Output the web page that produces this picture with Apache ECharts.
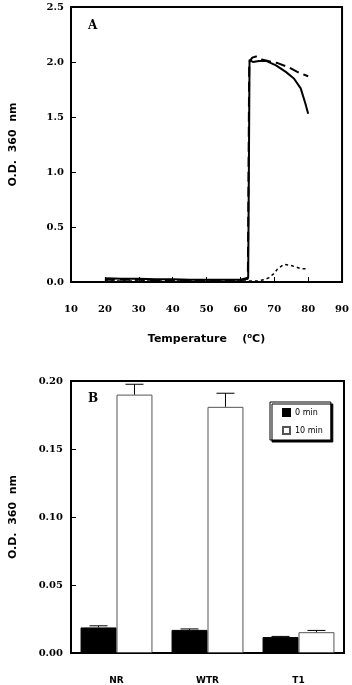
<!DOCTYPE html>
<html>
<head>
<meta charset="utf-8">
<script src="https://cdn.jsdelivr.net/npm/echarts@6/dist/echarts.min.js"></script>
<style>html,body{margin:0;padding:0;background:#fff}#main{width:352px;height:685px}</style>
</head>
<body>
<div id="main"></div>
<script>
// panel A: O.D. 360 vs temperature
var solidT = [20, 25, 30, 35, 40, 45, 50, 55, 60, 62.3, 62.7, 63.7, 65.5, 67.6, 70.5, 73.4, 75.8, 77.8, 79.2, 80];
var solidV = [0.035, 0.03, 0.03, 0.025, 0.025, 0.02, 0.02, 0.02, 0.02, 0.04, 2.02, 2.0, 2.01, 2.01, 1.97, 1.91, 1.85, 1.76, 1.62, 1.53];
var dashT = [20, 30, 40, 50, 60, 62.2, 62.6, 63.5, 64.6, 66.6, 71, 74.4, 76.8, 80];
var dashV = [0.02, 0.02, 0.015, 0.015, 0.015, 0.03, 2.0, 2.04, 2.05, 2.02, 1.99, 1.95, 1.91, 1.87];
var dotT = [20, 30, 40, 50, 60, 63, 65, 67, 68.5, 70, 71, 72.9, 75, 77, 78, 80];
var dotV = [0.01, 0.01, 0.01, 0.01, 0.01, 0.01, 0.01, 0.02, 0.04, 0.08, 0.12, 0.16, 0.15, 0.13, 0.12, 0.12];

// panel B: bars
var samples = ['NR', 'WTR', 'T1'];
var od0 = [0.0188, 0.0170, 0.0117];
var od10 = [0.190, 0.181, 0.0153];
var err0 = [0.0012, 0.0007, 0.0005];
var err10 = [0.0076, 0.0100, 0.0013];

function pairs(xs, ys) {
    return xs.map(function (x, i) { return [x, ys[i]]; });
}
function errData(vals, errs) {
    return vals.map(function (v, i) { return [i, v, errs[i]]; });
}
var gapPct = 0.21;
function errRender(sign) {
    return function (params, api) {
        var idx = api.value(0), v = api.value(1), e = api.value(2);
        var band = api.size([1, 0])[0];
        var bw = band * (1 - gapPct) / 2;
        var c = api.coord([idx, v]);
        var t = api.coord([idx, v + e]);
        var x = c[0] + sign * bw / 2;
        return {
            type: 'group',
            children: [
                {type: 'line', shape: {x1: x, y1: c[1], x2: x, y2: t[1]}, style: {stroke: '#000', lineWidth: 1}},
                {type: 'line', shape: {x1: x - 9, y1: t[1], x2: x + 9, y2: t[1]}, style: {stroke: '#000', lineWidth: 1}}
            ]
        };
    };
}

var tickFont = {fontFamily: 'DejaVu Serif', fontWeight: 'bold', fontSize: 10, color: '#000'};
var nameFont = {fontFamily: 'DejaVu Sans', fontWeight: 'bold', fontSize: 11, color: '#000'};

var myChart = echarts.init(document.getElementById('main'));
myChart.setOption({
    animation: false,
    backgroundColor: '#fff',
    title: [
        {text: 'A', left: 83, top: 15, textStyle: {fontFamily: 'DejaVu Serif', fontWeight: 'bold', fontSize: 12, color: '#000'}},
        {text: 'B', left: 83, top: 388, textStyle: {fontFamily: 'DejaVu Serif', fontWeight: 'bold', fontSize: 12, color: '#000'}}
    ],
    legend: {
        data: ['0 min', '10 min'],
        icon: 'rect',
        orient: 'vertical',
        left: 270, top: 402,
        itemWidth: 7, itemHeight: 7, itemGap: 9,
        padding: [6, 8, 5, 12],
        backgroundColor: '#fff',
        borderColor: '#000', borderWidth: 1, borderRadius: 0,
        shadowColor: '#000', shadowBlur: 0, shadowOffsetX: 2, shadowOffsetY: 2,
        textStyle: {fontFamily: 'DejaVu Sans', fontSize: 8, color: '#000'}
    },
    grid: [
        {left: 69, right: 8, top: 7, height: 275, show: true, borderColor: '#000', borderWidth: 2},
        {left: 70, right: 8, top: 381, height: 274, show: true, borderColor: '#000', borderWidth: 2}
    ],
    xAxis: [
        {
            gridIndex: 0, type: 'value', min: 10, max: 90, interval: 10,
            name: 'Temperature    ({sup|o}C)',
            nameLocation: 'middle', nameGap: 51,
            nameTextStyle: Object.assign({}, nameFont, {rich: {sup: {fontFamily: 'DejaVu Sans', fontWeight: 'bold', fontSize: 7, verticalAlign: 'top', padding: [0, 0, 6, 0]}}}),
            axisLine: {lineStyle: {color: '#000', width: 2}},
            axisTick: {inside: true, length: 5, lineStyle: {color: '#000', width: 1}},
            axisLabel: Object.assign({margin: 22}, tickFont),
            splitLine: {show: false}
        },
        {
            gridIndex: 1, type: 'category', data: samples,
            axisLine: {lineStyle: {color: '#000', width: 2}},
            axisTick: {inside: true, length: 5, lineStyle: {color: '#000', width: 1}},
            axisLabel: {margin: 23, fontFamily: 'DejaVu Sans', fontWeight: 'bold', fontSize: 9, color: '#000'}
        }
    ],
    yAxis: [
        {
            gridIndex: 0, type: 'value', min: 0, max: 2.5, interval: 0.5,
            name: 'O.D.  360  nm', nameLocation: 'middle', nameGap: 52, nameTextStyle: nameFont,
            axisLine: {show: true, lineStyle: {color: '#000', width: 2}},
            axisTick: {show: true, inside: true, length: 5, lineStyle: {color: '#000', width: 1}},
            axisLabel: Object.assign({margin: 7, formatter: function (v) { return v.toFixed(1); }}, tickFont),
            splitLine: {show: false}
        },
        {
            gridIndex: 1, type: 'value', min: 0, max: 0.2, interval: 0.05,
            name: 'O.D.  360  nm', nameLocation: 'middle', nameGap: 52, nameTextStyle: nameFont,
            axisLine: {show: true, lineStyle: {color: '#000', width: 2}},
            axisTick: {show: true, inside: true, length: 5, lineStyle: {color: '#000', width: 1}},
            axisLabel: Object.assign({margin: 8, formatter: function (v) { return v.toFixed(2); }}, tickFont),
            splitLine: {show: false}
        }
    ],
    series: [
        {
            type: 'line', xAxisIndex: 0, yAxisIndex: 0, data: pairs(solidT, solidV),
            showSymbol: false,
            lineStyle: {color: '#000', width: 2, type: 'solid'}
        },
        {
            type: 'line', xAxisIndex: 0, yAxisIndex: 0, data: pairs(dashT, dashV),
            showSymbol: false,
            lineStyle: {color: '#000', width: 2, type: [10, 5]}
        },
        {
            type: 'line', xAxisIndex: 0, yAxisIndex: 0, data: pairs(dotT, dotV),
            showSymbol: false,
            lineStyle: {color: '#000', width: 1.5, type: [3, 3]}
        },
        {
            name: '0 min', type: 'bar', xAxisIndex: 1, yAxisIndex: 1, data: od0,
            barGap: 0, barCategoryGap: (gapPct * 100) + '%',
            itemStyle: {color: '#000', borderColor: '#000', borderWidth: 1}
        },
        {
            name: '10 min', type: 'bar', xAxisIndex: 1, yAxisIndex: 1, data: od10,
            barGap: 0, barCategoryGap: (gapPct * 100) + '%',
            itemStyle: {color: '#fff', borderColor: '#555', borderWidth: 1}
        },
        {
            type: 'custom', xAxisIndex: 1, yAxisIndex: 1, data: errData(od0, err0),
            renderItem: errRender(-1), z: 5
        },
        {
            type: 'custom', xAxisIndex: 1, yAxisIndex: 1, data: errData(od10, err10),
            renderItem: errRender(1), z: 5
        }
    ]
});
</script>
</body>
</html>
